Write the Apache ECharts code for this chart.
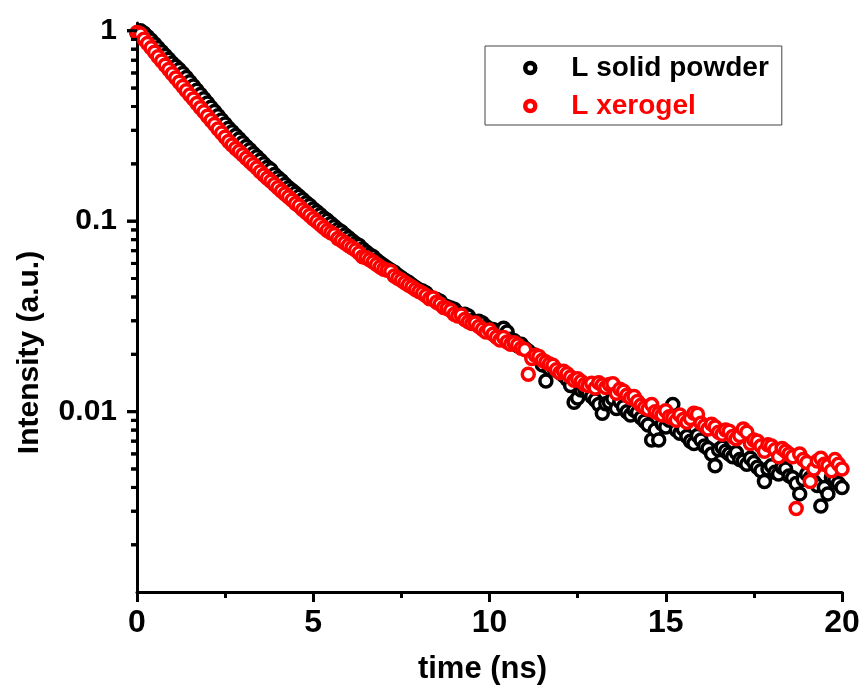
<!DOCTYPE html>
<html>
<head>
<meta charset="utf-8">
<script src="https://cdn.jsdelivr.net/npm/echarts@6/dist/echarts.min.js"></script>
<style>
html,body{margin:0;padding:0;background:#fff;}
#chart{width:864px;height:690px;}
</style>
</head>
<body>
<div id="chart"></div>
<script>
const times = [0,0.1,0.2,0.3,0.4,0.5,0.6,0.7,0.8,0.9,1,1.1,1.2,1.3,1.4,1.5,1.6,1.7,1.8,1.9,2,2.1,2.2,2.3,2.4,2.5,2.6,2.7,2.8,2.9,3,3.1,3.2,3.3,3.4,3.5,3.6,3.7,3.8,3.9,4,4.1,4.2,4.3,4.4,4.5,4.6,4.7,4.8,4.9,5,5.1,5.2,5.3,5.4,5.5,5.6,5.7,5.8,5.9,6,6.1,6.2,6.3,6.4,6.5,6.6,6.7,6.8,6.9,7,7.1,7.2,7.3,7.4,7.5,7.6,7.7,7.8,7.9,8,8.1,8.2,8.3,8.4,8.5,8.6,8.7,8.8,8.9,9,9.1,9.2,9.3,9.4,9.5,9.6,9.7,9.8,9.9,10,10.1,10.2,10.3,10.4,10.5,10.6,10.7,10.8,10.9,11,11.1,11.2,11.3,11.4,11.5,11.6,11.7,11.8,11.9,12,12.1,12.2,12.3,12.4,12.5,12.6,12.7,12.8,12.9,13,13.1,13.2,13.3,13.4,13.5,13.6,13.7,13.8,13.9,14,14.1,14.2,14.3,14.4,14.5,14.6,14.7,14.8,14.9,15,15.1,15.2,15.3,15.4,15.5,15.6,15.7,15.8,15.9,16,16.1,16.2,16.3,16.4,16.5,16.6,16.7,16.8,16.9,17,17.1,17.2,17.3,17.4,17.5,17.6,17.7,17.8,17.9,18,18.1,18.2,18.3,18.4,18.5,18.6,18.7,18.8,18.9,19,19.1,19.2,19.3,19.4,19.5,19.6,19.7,19.8,19.9,20];

const solidPowder = [0.97,1.00,0.97,0.93,0.891,0.852,0.813,0.776,0.741,0.708,0.676,0.650,0.625,0.596,0.568,0.540,0.513,0.487,0.462,0.439,0.417,0.396,0.377,0.358,0.340,0.324,0.308,0.295,0.282,0.270,0.258,0.247,0.237,0.227,0.218,0.209,0.200,0.192,0.186,0.176,0.169,0.163,0.156,0.150,0.145,0.140,0.135,0.130,0.125,0.121,0.116,0.112,0.108,0.104,0.101,0.0972,0.0938,0.0905,0.0880,0.0846,0.0818,0.0790,0.0764,0.0745,0.0714,0.0690,0.0667,0.0650,0.0624,0.0604,0.0585,0.0568,0.0552,0.0540,0.0520,0.0505,0.0490,0.0478,0.0462,0.0449,0.0436,0.0430,0.0420,0.0401,0.0390,0.0388,0.0380,0.0362,0.0355,0.0350,0.0345,0.0330,0.0322,0.0325,0.0318,0.0300,0.0296,0.0298,0.0292,0.0280,0.0272,0.0270,0.0266,0.0258,0.0274,0.0262,0.0240,0.0236,0.0222,0.0226,0.0215,0.0208,0.0200,0.0198,0.0192,0.0176,0.0145,0.0168,0.0172,0.0165,0.0160,0.0155,0.0148,0.0137,0.0112,0.0118,0.0130,0.0132,0.0126,0.0120,0.0115,0.0109,0.0098,0.0110,0.0112,0.0117,0.0104,0.0113,0.0106,0.0100,0.0096,0.0102,0.0099,0.0093,0.0089,0.0085,0.0071,0.0080,0.0071,0.0086,0.0083,0.0090,0.0109,0.0080,0.0077,0.0081,0.0074,0.0070,0.0068,0.0075,0.0071,0.0066,0.0064,0.0060,0.0052,0.0063,0.0065,0.0062,0.0060,0.0058,0.0061,0.0056,0.0055,0.0053,0.0057,0.0054,0.0051,0.0049,0.0043,0.0050,0.0052,0.0048,0.0047,0.0051,0.0050,0.0046,0.0045,0.0042,0.0037,0.0044,0.0047,0.0045,0.0043,0.0041,0.0032,0.0040,0.0037,0.0045,0.0044,0.0042,0.0040];

const xerogel = [0.98,0.96,0.902,0.858,0.813,0.771,0.731,0.694,0.659,0.626,0.594,0.565,0.537,0.510,0.484,0.460,0.438,0.415,0.394,0.375,0.356,0.338,0.322,0.305,0.290,0.276,0.262,0.251,0.241,0.232,0.223,0.214,0.206,0.198,0.190,0.182,0.175,0.168,0.162,0.156,0.150,0.144,0.139,0.134,0.129,0.124,0.120,0.115,0.111,0.107,0.103,0.0995,0.0962,0.0925,0.0893,0.0870,0.0850,0.0812,0.0791,0.0768,0.0746,0.0725,0.0705,0.0680,0.0650,0.0642,0.0628,0.0610,0.0593,0.0575,0.0560,0.0552,0.0545,0.0515,0.0502,0.0490,0.0475,0.0462,0.0451,0.0438,0.0427,0.0418,0.0406,0.0392,0.0395,0.0375,0.0366,0.0352,0.0348,0.0340,0.0325,0.0318,0.0322,0.0305,0.0296,0.0290,0.0292,0.0280,0.0271,0.0262,0.0268,0.0255,0.0246,0.0238,0.0245,0.0232,0.0226,0.0230,0.0224,0.0215,0.0212,0.0157,0.0190,0.0198,0.0195,0.0186,0.0182,0.0178,0.0175,0.0166,0.0160,0.0163,0.0158,0.0152,0.0146,0.0149,0.0144,0.0139,0.0137,0.0141,0.0133,0.0142,0.0138,0.0134,0.0139,0.0140,0.0125,0.0131,0.0128,0.0122,0.0118,0.0120,0.0113,0.0108,0.0105,0.0103,0.0109,0.0100,0.0098,0.0096,0.0101,0.0094,0.0093,0.0090,0.0096,0.0091,0.0088,0.0092,0.0098,0.0097,0.0087,0.0084,0.0081,0.0086,0.0083,0.0078,0.0076,0.0080,0.0079,0.0074,0.0072,0.0075,0.0081,0.0078,0.0068,0.0071,0.0070,0.0066,0.0062,0.0067,0.0066,0.0063,0.0058,0.0064,0.0062,0.0060,0.0058,0.0031,0.0060,0.0056,0.0054,0.0043,0.0050,0.0055,0.0057,0.0053,0.0052,0.0049,0.0056,0.0053,0.0050];

const seriesNames = ['L solid powder', 'L xerogel'];
const seriesColors = ['#000000', '#ff0000'];
const yMajorTicks = [0.01, 0.1, 1];
const yTickLabels = ['0.01', '0.1', '1'];
const yMinorTicks = [0.002,0.003,0.004,0.005,0.006,0.007,0.008,0.009,0.02,0.03,0.04,0.05,0.06,0.07,0.08,0.09,0.2,0.3,0.4,0.5,0.6,0.7,0.8,0.9];
const xTickLabels = ['0', '5', '10', '15', '20'];

const FONT = '"Liberation Sans", Arial, sans-serif';
const chart = echarts.init(document.getElementById('chart'));

function pairs(xs, ys) { return xs.map((x, i) => [x, ys[i]]); }
function yLabel(v) {
  let best = 0, bd = Infinity;
  yMajorTicks.forEach((t, i) => { const d = Math.abs(Math.log10(v) - Math.log10(t)); if (d < bd) { bd = d; best = i; } });
  return bd < 0.01 ? yTickLabels[best] : '';
}

const yMin = 0.00113, yMax = 1.098;
const MAJOR_LEN = 10, MINOR_LEN = 6;

const tickData = yMajorTicks.map(v => [0, v, 1]).concat(yMinorTicks.map(v => [0, v, 0]));
function renderTick(params, api) {
  const p = api.coord([api.value(0), api.value(1)]);
  const len = api.value(2) === 1 ? MAJOR_LEN : MINOR_LEN;
  return {
    type: 'line',
    shape: { x1: p[0] - len, y1: p[1], x2: p[0], y2: p[1] },
    style: { stroke: '#000', lineWidth: 3 }
  };
}

const option = {
  animation: false,
  backgroundColor: '#ffffff',
  grid: { left: 137, right: 22, top: 23, bottom: 98 },
  legend: {
    orient: 'vertical',
    left: 485, top: 46,
    padding: [7, 13, 4, 38],
    itemGap: 8,
    itemWidth: 10,
    itemHeight: 10,
    borderColor: '#444444',
    borderWidth: 1,
    backgroundColor: '#ffffff',
    itemStyle: { borderWidth: 4.5 },
    textStyle: { fontFamily: FONT, fontWeight: 'bold', fontSize: 28, lineHeight: 30, padding: [0, 0, 0, 31] },
    data: seriesNames.map((n, i) => ({ name: n, textStyle: { color: seriesColors[i] } }))
  },
  xAxis: {
    type: 'value', min: 0, max: 20, interval: 5,
    name: 'time (ns)', nameLocation: 'middle', nameGap: 62,
    nameTextStyle: { fontFamily: FONT, fontWeight: 'bold', fontSize: 31, color: '#000', padding: [0, 14, 0, 0] },
    axisLine: { show: true, lineStyle: { color: '#000', width: 3 } },
    axisTick: { show: true, inside: false, length: 10, lineStyle: { color: '#000', width: 3 } },
    minorTick: { show: true, splitNumber: 2, length: 6, lineStyle: { color: '#000', width: 3 } },
    splitLine: { show: false },
    axisLabel: { fontFamily: FONT, fontWeight: 'bold', fontSize: 32, color: '#000', margin: 15,
      formatter: v => xTickLabels[Math.round(v / 5)] }
  },
  yAxis: {
    type: 'log', min: yMin, max: yMax,
    name: 'Intensity (a.u.)', nameLocation: 'middle', nameGap: 92,
    nameTextStyle: { fontFamily: FONT, fontWeight: 'bold', fontSize: 30, color: '#000', padding: [0, 90, 0, 0] },
    axisLine: { show: true, lineStyle: { color: '#000', width: 3 } },
    axisTick: { show: false },
    minorTick: { show: false },
    splitLine: { show: false },
    axisLabel: { customValues: yMajorTicks, fontFamily: FONT, fontWeight: 'bold', fontSize: 30, color: '#000', margin: 20,
      formatter: v => yLabel(v) }
  },
  series: [
    { type: 'custom', clip: false, z: 1, renderItem: renderTick, data: tickData, encode: { x: 0, y: 1 } },
    {
      name: seriesNames[0], type: 'scatter', symbol: 'circle', symbolSize: 12,
      itemStyle: { color: '#ffffff', borderColor: seriesColors[0], borderWidth: 3.5, opacity: 1 },
      data: pairs(times, solidPowder), z: 2
    },
    {
      name: seriesNames[1], type: 'scatter', symbol: 'circle', symbolSize: 12,
      itemStyle: { color: '#ffffff', borderColor: seriesColors[1], borderWidth: 3.5, opacity: 1 },
      data: pairs(times, xerogel), z: 3
    }
  ]
};
chart.setOption(option);

const gTicks = [];
yMajorTicks.concat(yMinorTicks).forEach((v, i) => {
  const y = chart.convertToPixel({ yAxisIndex: 0 }, v);
  const x = chart.convertToPixel({ xAxisIndex: 0 }, 0);
  const len = i < yMajorTicks.length ? MAJOR_LEN : MINOR_LEN;
  gTicks.push({ type: 'line', z: 100, silent: true, shape: { x1: x - len, y1: y, x2: x, y2: y }, style: { stroke: '#000', lineWidth: 3 } });
});
chart.setOption({ graphic: gTicks });

// force the display list to rebuild and repaint immediately
const zr = chart.getZr();
zr.storage.getDisplayList(true);
zr.refreshImmediately();
</script>
</body>
</html>
